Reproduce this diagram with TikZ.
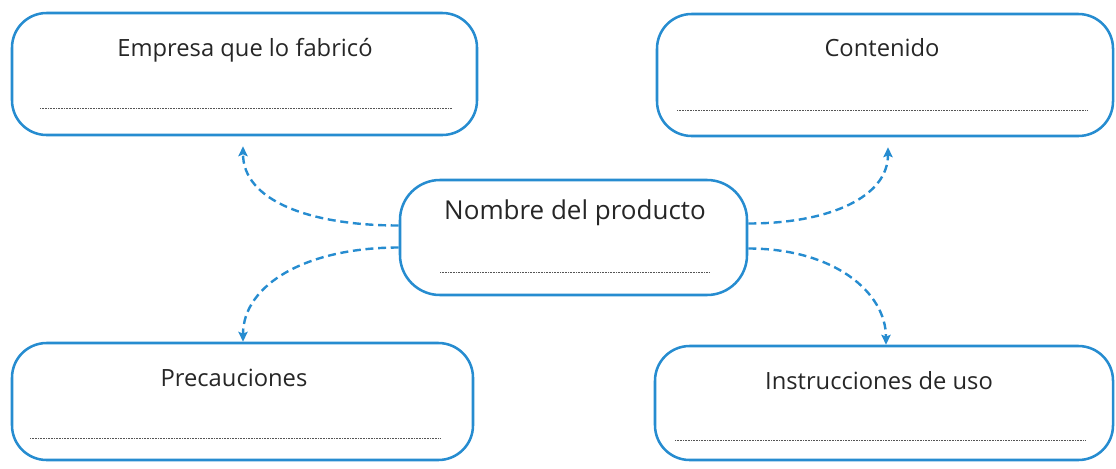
\documentclass[tikz,border=0pt]{standalone}
\usepackage{fontspec}
\setmainfont{Open Sans}
\usetikzlibrary{arrows.meta,calc}
\definecolor{mapblue}{RGB}{38,140,208}
\definecolor{dotgray}{RGB}{85,85,85}
\tikzset{
	card/.style={draw=mapblue, line width=1.9pt, rounded corners=26pt, inner sep=0pt},
	title/.style={font=\fontsize{17.8}{21}\selectfont, text=black!85},
	blank/.style={dotgray, line width=0.75pt, dash pattern=on 0.45pt off 0.75pt},
	link/.style={mapblue, line width=1.8pt, dash pattern=on 6pt off 3.5pt, -{Stealth[length=7.5pt,width=7pt,inset=1.5pt]}}
}

\begin{document}
\begin{tikzpicture}[x=0.75pt, y=-0.75pt]
		%%%%% START %%%%%
		\useasboundingbox (0,0) rectangle (1116,468);
		
		\node[card, minimum width=348.75pt, minimum height=91.5pt] (empresa) at (244.5,74) {};
		\node[card, minimum width=342pt, minimum height=91.5pt] (contenido) at (885,75) {};
		\node[card, minimum width=260.25pt, minimum height=86.25pt, rounded corners=30pt] (producto) at (573.5,237.5) {};
		\node[card, minimum width=345.75pt, minimum height=87.75pt] (precauciones) at (242.5,401.5) {};
		\node[card, minimum width=343.5pt, minimum height=85.5pt] (instrucciones) at (884,403) {};
		
		\node[title] (tempresa) at (245,50) {Empresa que lo fabricó};
		\node[title] (tcontenido) at (882,48) {Contenido};
		\node[title, font=\fontsize{19.5}{23}\selectfont] (tproducto) at (575,213) {Nombre del producto};
		\node[title] (tprecauciones) at (234,378) {Precauciones};
		\node[title] (tinstrucciones) at (879,381) {Instrucciones de uso};
		
		\draw[blank] (40,108) -- (452,108);
		\draw[blank] (677,110) -- (1087,110);
		\draw[blank] (440,272) -- (710,272);
		\draw[blank] (30,438) -- (440,438);
		\draw[blank] (675,440) -- (1085,440);
		
		\draw[link] ($(producto.west)+(0,-12)$) to[out=180, in=-90, out looseness=1.3, in looseness=0.8] ($(empresa.south)+(-1.5,10)$);
		\draw[link] ($(producto.east)+(0,-14)$) to[out=0, in=-90, out looseness=1.3, in looseness=0.8] ($(contenido.south)+(3,10)$);
		\draw[link] ($(producto.west)+(0,10)$) to[out=180, in=90, out looseness=1.3, in looseness=0.8] ($(precauciones.north)+(0.5,0)$);
		\draw[link] ($(producto.east)+(0,11)$) to[out=0, in=90, out looseness=1.3, in looseness=0.8] ($(instrucciones.north)+(2,0)$);
		
		%%%%% END %%%%%
\end{tikzpicture}
\end{document}
